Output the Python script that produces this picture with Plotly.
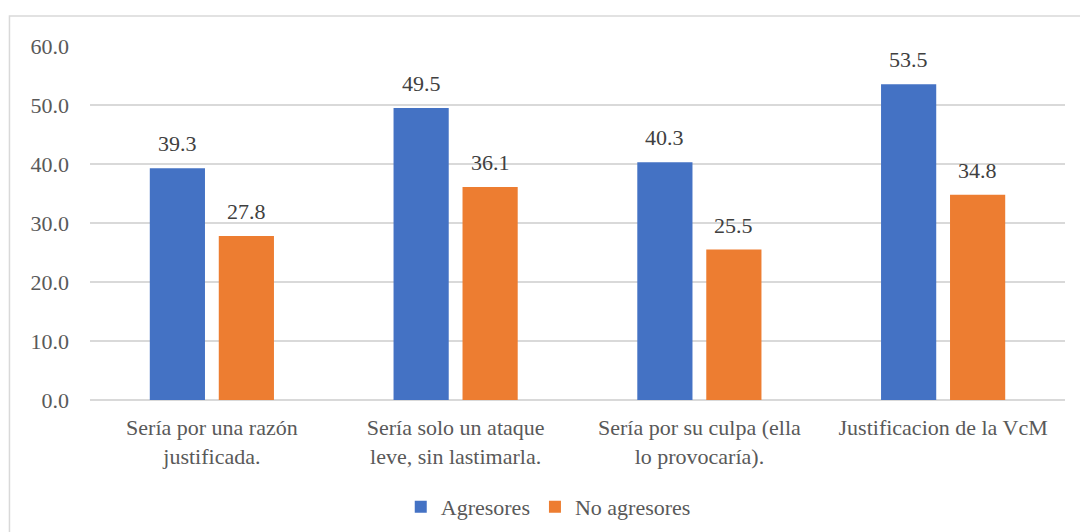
import plotly.graph_objects as go

categories = [
    "Sería por una razón<br>justificada.",
    "Sería solo un ataque<br>leve, sin lastimarla.",
    "Sería por su culpa (ella<br>lo provocaría).",
    "Justificacion de la VcM",
]
agresores = [39.3, 49.5, 40.3, 53.5]
no_agresores = [27.8, 36.1, 25.5, 34.8]
y_ticks = [0, 10, 20, 30, 40, 50, 60]

FONT = "Liberation Serif, Times New Roman, serif"
SIZE = 22

fig = go.Figure()
fig.add_trace(go.Bar(x=categories, y=agresores, name="Agresores",
                     marker=dict(color="#4472C4", line=dict(width=0))))
fig.add_trace(go.Bar(x=categories, y=no_agresores, name="No agresores",
                     marker=dict(color="#ED7D31", line=dict(width=0))))

# data labels above each bar
for vals, shift in [(agresores, -34.5), (no_agresores, 34.5)]:
    for c, v in zip(categories, vals):
        fig.add_annotation(x=c, y=v, text=f"{v:.1f}", showarrow=False,
                           xshift=shift, yshift=10, yanchor="bottom",
                           font=dict(family=FONT, size=SIZE, color="#404040"))

# chart border like the Excel frame
fig.add_shape(type="rect", xref="paper", yref="paper",
              x0=-0.0826, x1=1.2, y0=-0.6, y1=1.0847,
              line=dict(color="#d9d9d9", width=1.5), layer="below")

fig.update_layout(
    width=1080, height=532,
    margin=dict(l=90, r=15, t=46, b=132, autoexpand=False),
    paper_bgcolor="white", plot_bgcolor="white",
    barmode="group", bargap=0.434, bargroupgap=0.2,
    font=dict(family=FONT, size=SIZE, color="#595959"),
    legend=dict(orientation="h", x=0.47, xanchor="center",
                y=-0.302, yanchor="middle", itemwidth=30,
                font=dict(family=FONT, size=SIZE, color="#595959")),
    xaxis=dict(showgrid=False, ticks="", tickfont=dict(family=FONT, size=SIZE),
               showline=False, automargin=False, ticklabelstandoff=12),
    yaxis=dict(range=[0, 60], tickvals=y_ticks, tickformat=".1f",
               gridcolor="#d9d9d9", gridwidth=1.5, zeroline=True,
               zerolinecolor="#d9d9d9", zerolinewidth=1.5, automargin=False,
               ticks="", ticklabelstandoff=20,
               tickfont=dict(family=FONT, size=SIZE)),
)

fig.write_html("out.html", config={"displayModeBar": False},
               post_script="document.body.style.margin='0';")
